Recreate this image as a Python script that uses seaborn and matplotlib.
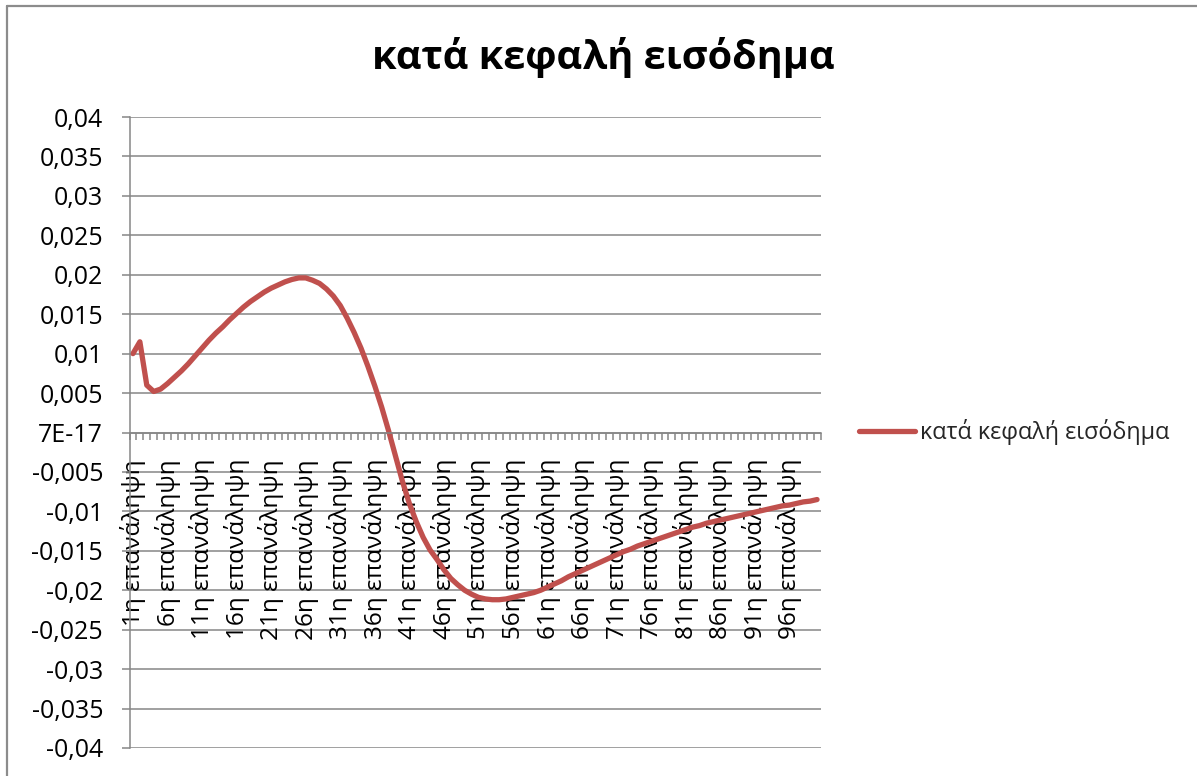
import numpy as np
import pandas as pd
import matplotlib
matplotlib.use("Agg")
import matplotlib.pyplot as plt
from matplotlib.lines import Line2D
import seaborn as sns

# Per-capita income deviation over 100 iterations
series_name = "κατά κεφαλή εισόδημα"
values = [
    0.0100, 0.0115, 0.0060, 0.0052, 0.0055, 0.0062, 0.0070, 0.0078, 0.0087, 0.0097,
    0.0107, 0.0117, 0.0126, 0.0134, 0.0143, 0.0151, 0.0159, 0.0166, 0.0172, 0.0178,
    0.0183, 0.0187, 0.0191, 0.0194, 0.0196, 0.0196, 0.0193, 0.0189, 0.0182, 0.0173,
    0.0161, 0.0145, 0.0127, 0.0107, 0.0084, 0.0059, 0.0032, 0.0002, -0.0030, -0.0062,
    -0.0090, -0.0113, -0.0133, -0.0149, -0.0161, -0.0174, -0.0185, -0.0193, -0.0200, -0.0205,
    -0.0209, -0.0211, -0.0212, -0.0212, -0.0211, -0.0209, -0.0207, -0.0205, -0.0203, -0.0200,
    -0.0196, -0.0192, -0.0188, -0.0183, -0.0179, -0.0175, -0.0171, -0.0167, -0.0163, -0.0159,
    -0.0155, -0.0151, -0.0148, -0.0144, -0.0141, -0.0138, -0.0135, -0.0132, -0.0129, -0.0126,
    -0.0123, -0.0120, -0.0118, -0.0115, -0.0113, -0.0111, -0.0109, -0.0107, -0.0105, -0.0103,
    -0.0101, -0.0099, -0.0097, -0.0095, -0.0093, -0.0092, -0.0090, -0.0088, -0.0087, -0.0085,
]
iterations = list(range(1, len(values) + 1))
category_labels = [f"{i}η επανάληψη" for i in iterations]
label_step = 5

y_ticks = [-0.04, -0.035, -0.03, -0.025, -0.02, -0.015, -0.01, -0.005, 0.0,
           0.005, 0.01, 0.015, 0.02, 0.025, 0.03, 0.035, 0.04]
y_tick_labels = ["-0,04", "-0,035", "-0,03", "-0,025", "-0,02", "-0,015", "-0,01", "-0,005", "7E-17",
                 "0,005", "0,01", "0,015", "0,02", "0,025", "0,03", "0,035", "0,04"]

df = pd.DataFrame({"iteration": iterations, "value": values, "series": series_name})

sns.set_theme(style="white")
plt.rcParams["font.family"] = ["Open Sans", "DejaVu Sans"]

W, H = 1197, 776
fig = plt.figure(figsize=(W / 100, H / 100), dpi=100)
fig.patch.set_facecolor("white")

x0, x1, y_top, y_bot = 129.5, 820.5, 117, 748
ax = fig.add_axes([x0 / W, 1 - y_bot / H, (x1 - x0) / W, (y_bot - y_top) / H])

grid_color = "#868686"
line_color = "#C0504D"
label_size = 17.5

sns.lineplot(data=df, x="iteration", y="value", hue="series", palette=[line_color],
             linewidth=3.8, ax=ax, legend=True)

ax.set_xlim(0.5, len(values) + 0.5)
ax.set_ylim(-0.04, 0.04)
ax.set_xlabel("")
ax.set_ylabel("")

# Horizontal gridlines
for yv in y_ticks:
    ax.axhline(yv, color=grid_color, lw=1.1, zorder=0)

ax.set_yticks(y_ticks)
ax.set_yticklabels(y_tick_labels)
ax.tick_params(axis="y", which="major", direction="out", length=6, width=1.1,
               color=grid_color, pad=13, labelsize=18, labelcolor="black", left=True)

# Category axis crossing at zero, tick marks between categories
for side in ["top", "right"]:
    ax.spines[side].set_visible(False)
ax.spines["left"].set_color(grid_color)
ax.spines["left"].set_linewidth(1.1)
ax.spines["bottom"].set_position(("data", 0))
ax.spines["bottom"].set_color(grid_color)
ax.spines["bottom"].set_linewidth(1.1)

boundaries = np.arange(0.5, len(values) + 1.0, 1.0)
ax.set_xticks(boundaries)
ax.set_xticklabels([])
ax.tick_params(axis="x", which="major", direction="out", length=5, width=1.1,
               color=grid_color, bottom=True)

label_pos = iterations[::label_step]
ax.set_xticks(label_pos, minor=True)
ax.set_xticklabels(category_labels[::label_step], minor=True, rotation=90)
ax.tick_params(axis="x", which="minor", length=0, pad=19, labelsize=label_size,
               labelcolor="black", bottom=True)

# Legend on the right
handles, labels = ax.get_legend_handles_labels()
ax.legend_.remove()
fig.legend(handles, labels, loc="center left",
           bbox_to_anchor=(859 / W, 1 - 432 / H), frameon=False,
           borderpad=0, borderaxespad=0, handlelength=2.4, handletextpad=0.22,
           prop={"size": 16.8})

# Title
fig.text(603 / W, 1 - 57 / H, series_name, ha="center", va="center",
         fontsize=28.5, fontweight="bold", color="black")

# Chart frame (top and left edges)
frame_color = "#8c8c8c"
fig.add_artist(Line2D([6.5 / W, 6.5 / W], [0, 1 - 5.5 / H], transform=fig.transFigure,
                      color=frame_color, lw=1.6))
fig.add_artist(Line2D([6.5 / W, 1], [1 - 5.5 / H, 1 - 5.5 / H], transform=fig.transFigure,
                      color=frame_color, lw=1.6))

fig.savefig("out.png", dpi=100)
